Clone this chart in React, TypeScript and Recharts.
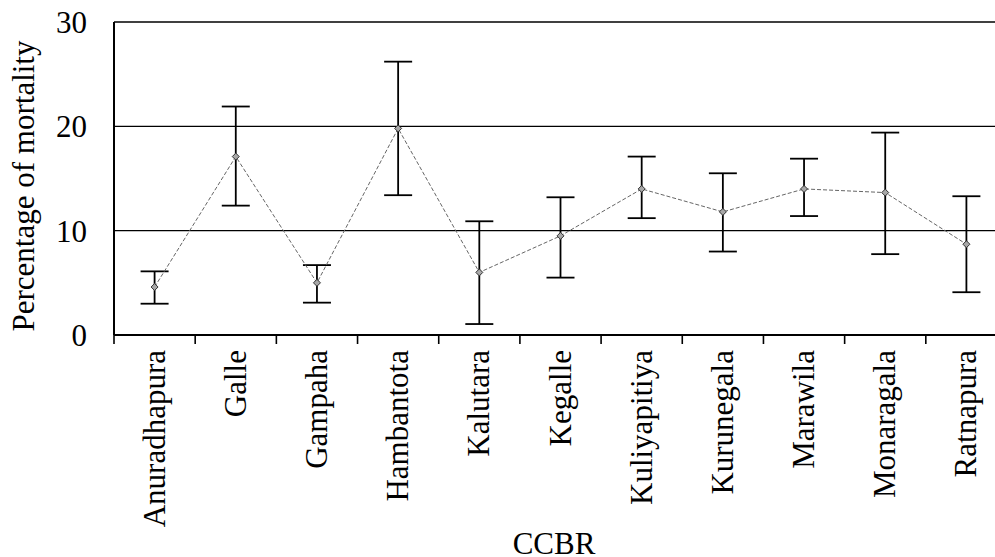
import React from 'react';
import { ComposedChart, Line, XAxis, YAxis, CartesianGrid, ErrorBar } from 'recharts';

const categories = ['Anuradhapura', 'Galle', 'Gampaha', 'Hambantota', 'Kalutara', 'Kegalle', 'Kuliyapitiya', 'Kurunegala', 'Marawila', 'Monaragala', 'Ratnapura'];
const mortality = [4.6, 17.1, 5.0, 19.8, 6.0, 9.5, 14.0, 11.8, 14.0, 13.65, 8.7];
const errLow = [1.6, 4.7, 1.9, 6.4, 4.95, 4.0, 2.8, 3.8, 2.6, 5.9, 4.6];
const errHigh = [1.5, 4.8, 1.7, 6.4, 4.9, 3.7, 3.1, 3.7, 2.9, 5.75, 4.6];
const yTicks = [0, 10, 20, 30];

// category i sits in the middle of the slot [i, i+1]
const data = categories.map((name, i) => ({
  pos: i + 0.5,
  name,
  value: mortality[i],
  err: [errLow[i], errHigh[i]],
}));
// ticks: slot boundaries (integers) get a tick mark, slot centres get the label
const xTicks: number[] = [];
for (let i = 0; i <= categories.length; i++) {
  xTicks.push(i);
  if (i < categories.length) xTicks.push(i + 0.5);
}

const FONT = '"Liberation Serif", "Times New Roman", serif';
const FS = 31;
const TICK_MARGIN = 15;

const CatTick = (props: any) => {
  const { x, y, payload } = props;
  const v = payload.value as number;
  if (Number.isInteger(v)) {
    const y0 = y - TICK_MARGIN;
    return <line x1={x} x2={x} y1={y0} y2={y0 + 9} stroke="#000" strokeWidth={1.6} />;
  }
  const name = categories[Math.floor(v)];
  return (
    <text
      x={x}
      y={y}
      dy={10}
      transform={`rotate(-90 ${x} ${y})`}
      textAnchor="end"
      fontFamily={FONT}
      fontSize={FS}
      fill="#000"
    >
      {name}
    </text>
  );
};

const Diamond = (props: any) => {
  const { cx, cy, index } = props;
  if (cx == null || cy == null) return <g key={`d${index}`} />;
  const r = 3.5;
  return (
    <path
      key={`d${index}`}
      d={`M${cx},${cy - r}L${cx + r},${cy}L${cx},${cy + r}L${cx - r},${cy}Z`}
      fill="#a8a8a8"
      stroke="#333"
      strokeWidth={1}
    />
  );
};

export default function App() {
  return (
    <div style={{ position: 'absolute', left: 0, top: 0, width: 995, height: 557, overflow: 'hidden', background: '#fff' }}>
      <ComposedChart
        width={1010}
        height={557}
        data={data}
        margin={{ top: 22, right: 3, bottom: 0, left: 0 }}
      >
        <CartesianGrid horizontal vertical={false} stroke="#000" strokeWidth={1.4} />
        <XAxis
          dataKey="pos"
          type="number"
          domain={[0, 11]}
          ticks={xTicks}
          interval={0}
          allowDataOverflow
          tickLine={false}
          tickSize={0}
          tickMargin={TICK_MARGIN}
          axisLine={{ stroke: '#000', strokeWidth: 2 }}
          tick={<CatTick />}
          height={222}
          label={() => (
            <text x={554} y={554} textAnchor="middle" fontFamily={FONT} fontSize={FS} fill="#000">
              CCBR
            </text>
          )}
        />
        <YAxis
          domain={[0, 30]}
          ticks={yTicks}
          allowDataOverflow
          width={114}
          tickLine={false}
          tickSize={0}
          tickMargin={27}
          axisLine={{ stroke: '#000', strokeWidth: 2 }}
          tick={{ fontFamily: FONT, fontSize: FS, fill: '#000' }}
          label={() => (
            <text
              x={34}
              y={186}
              transform="rotate(-90 34 186)"
              textAnchor="middle"
              fontFamily={FONT}
              fontSize={FS}
              fill="#000"
            >
              Percentage of mortality
            </text>
          )}
        />
        <Line
          dataKey="value"
          stroke="#666"
          strokeWidth={1}
          strokeDasharray="4 2"
          dot={<Diamond />}
          activeDot={false}
          isAnimationActive={false}
        >
          <ErrorBar dataKey="err" width={14} stroke="#000" strokeWidth={1.8} direction="y" />
        </Line>
      </ComposedChart>
    </div>
  );
}
